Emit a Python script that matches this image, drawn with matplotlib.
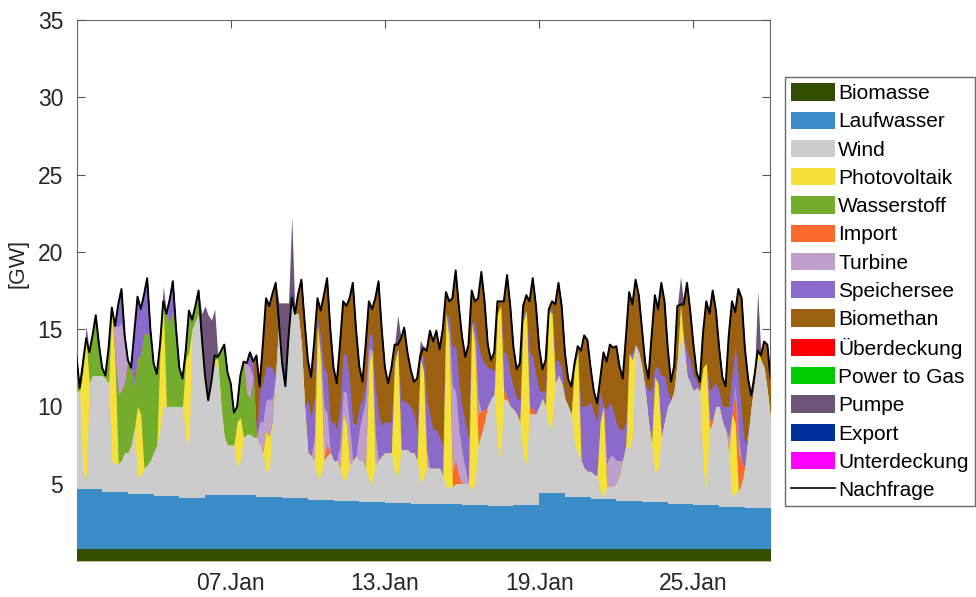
import numpy as np
import matplotlib.pyplot as plt
from matplotlib.patches import Patch
from matplotlib.lines import Line2D

plt.rcParams['font.family'] = ['Liberation Sans', 'DejaVu Sans']

# Stunden ab 01.Jan 00:00 im 3-h-Raster (letzter Punkt = 28.Jan 00:00)
stunden = np.arange(0, 27 * 24 + 1, 3)
tage = np.arange(0, 28) * 24

# Nachfrage [GW], eine Zeile pro Tag (0, 3, ..., 21 Uhr)
nachfrage = [
    13.2, 11.2, 12.8, 14.4, 13.5, 14.6, 15.9, 14.0,
    12.5, 12.0, 13.8, 16.4, 15.2, 16.6, 17.6, 14.6,
    13.0, 12.5, 14.8, 17.1, 16.3, 17.2, 18.3, 15.0,
    12.8, 12.1, 14.0, 16.8, 16.0, 16.9, 18.1, 15.0,
    12.5, 11.8, 13.6, 16.2, 15.6, 16.5, 17.5, 14.5,
    12.0, 10.4, 11.6, 13.3, 13.2, 13.6, 14.0, 12.2,
    11.5, 9.6, 10.0, 12.0, 12.9, 12.8, 13.5, 12.9,
    13.3, 11.3, 14.0, 17.0, 16.5, 17.3, 18.0, 15.5,
    12.8, 11.3, 14.5, 17.0, 16.0, 17.3, 18.2, 15.5,
    13.0, 11.9, 14.2, 17.0, 16.2, 17.2, 18.3, 15.0,
    12.5, 11.5, 14.0, 16.8, 16.5, 17.0, 18.0, 15.0,
    12.6, 11.6, 14.0, 16.8, 16.3, 17.0, 18.1, 15.0,
    12.5, 11.5, 12.5, 14.0, 14.0, 14.4, 15.1, 13.5,
    12.4, 11.6, 11.8, 13.3, 13.8, 13.6, 14.9, 14.2,
    14.9, 13.7, 15.0, 17.4, 16.8, 17.0, 18.8, 16.5,
    14.5, 13.2, 14.0, 17.5, 16.8, 17.0, 18.7, 16.8,
    14.0, 13.0, 13.5, 16.8, 16.8, 16.8, 18.5, 16.5,
    13.8, 12.4, 12.8, 16.5, 17.2, 16.8, 18.3, 16.5,
    13.8, 12.4, 13.0, 16.3, 16.8, 16.6, 18.0, 16.5,
    13.5, 11.8, 11.3, 12.8, 13.9, 13.6, 14.6, 14.3,
    12.5, 11.0, 10.2, 11.8, 13.5, 12.9, 14.0, 13.8,
    13.9, 12.6, 11.8, 14.5, 17.4, 16.6, 18.2, 17.2,
    15.0, 12.8, 11.8, 14.6, 17.2, 16.3, 18.0, 16.8,
    13.8, 11.6, 12.6, 16.5, 16.6, 16.6, 18.0, 16.2,
    14.0, 12.2, 11.6, 14.8, 16.8, 16.0, 17.5, 16.2,
    13.8, 11.9, 11.3, 14.6, 16.8, 16.1, 17.6, 17.0,
    13.8, 11.8, 10.7, 12.0, 13.6, 13.3, 14.2, 14.0,
    11.8,
]

# Oberkante der Windeinspeisung [GW] (gestapelt ueber Biomasse + Laufwasser)
wind_oben = [
    11.0, 11.0, 5.8, 5.3, 11.5, 12.0, 12.0, 12.0,
    12.0, 11.8, 11.5, 6.5, 6.3, 6.3, 6.5, 7.0,
    7.0, 7.5, 8.5, 5.5, 5.5, 6.0, 6.2, 6.5,
    7.0, 7.5, 8.5, 10.0, 10.0, 10.0, 10.0, 10.0,
    10.0, 10.0, 8.0, 7.6, 15.0, 15.5, 16.0, 14.0,
    12.0, 10.4, 11.6, 13.0, 12.5, 10.0, 8.0, 7.5,
    7.5, 7.5, 6.0, 6.5, 8.0, 8.2, 8.2, 8.0,
    8.0, 7.5, 7.0, 5.8, 6.0, 9.0, 12.0, 15.5,
    12.8, 11.3, 14.5, 17.0, 16.0, 16.0, 14.0, 10.0,
    7.0, 6.8, 6.5, 5.4, 5.5, 6.5, 6.8, 7.0,
    6.5, 6.5, 6.0, 5.2, 5.4, 6.2, 6.5, 6.8,
    6.5, 6.5, 6.0, 5.3, 5.0, 6.2, 6.5, 6.8,
    7.0, 7.0, 7.0, 5.8, 5.5, 7.2, 7.2, 7.2,
    7.0, 7.0, 6.5, 5.1, 5.3, 6.1, 6.0, 6.0,
    6.0, 6.0, 5.5, 4.8, 4.8, 4.8, 5.0, 5.0,
    5.0, 5.0, 5.0, 4.6, 5.0, 7.5, 8.2, 9.0,
    10.0, 10.5, 10.8, 7.5, 6.7, 10.5, 10.4, 10.0,
    9.8, 9.5, 9.0, 6.8, 6.3, 9.5, 9.5, 9.5,
    10.0, 10.5, 10.0, 8.5, 9.0, 11.5, 12.0, 11.5,
    10.5, 10.0, 9.5, 7.5, 7.0, 6.5, 6.0, 5.8,
    5.8, 5.6, 5.5, 4.5, 4.2, 4.8, 4.8, 4.8,
    5.0, 5.5, 6.5, 7.5, 7.2, 8.0, 14.0, 13.5,
    12.5, 11.0, 9.0, 7.6, 5.7, 6.0, 8.0, 9.0,
    10.0, 10.4, 11.0, 13.0, 14.3, 14.0, 12.0, 11.5,
    11.0, 11.2, 11.0, 6.0, 4.8, 8.5, 9.0, 10.0,
    10.0, 9.0, 8.5, 7.0, 4.2, 4.4, 4.5, 5.0,
    6.0, 8.0, 10.0, 11.5, 13.0, 13.0, 12.5, 11.0,
    9.2,
]

# Tageswerte [GW]
biomasse = [0.78] * 27
laufwasser = [3.86, 3.66, 3.53, 3.42, 3.32, 3.49, 3.49, 3.38, 3.27, 3.17,
              3.10, 3.04, 2.95, 2.91, 2.91, 2.82, 2.78, 2.82, 3.60, 3.38,
              3.21, 3.12, 3.01, 2.91, 2.82, 2.73, 2.67]

# Einzelne Stunden mit Beitrag [GW], sonst 0
photovoltaik = {6: 6.4, 9: 9.0, 33: 9.7, 36: 6.5, 57: 4.5, 60: 4.0, 78: 5.0,
                81: 6.7, 102: 5.0, 105: 6.0, 132: 0.6, 150: 3.0, 153: 2.8,
                177: 2.6, 180: 2.0, 225: 9.8, 228: 7.5, 249: 4.3, 252: 3.5,
                273: 7.5, 276: 8.6, 297: 7.0, 300: 8.2, 321: 8.0, 324: 7.0,
                345: 11.2, 348: 9.5, 369: 10.8, 372: 9.0, 393: 8.5, 396: 9.8,
                417: 8.7, 420: 9.9, 441: 7.7, 444: 7.0, 465: 5.0, 468: 6.5,
                489: 4.5, 492: 5.8, 516: 6.2, 519: 5.0, 540: 6.2, 543: 5.5,
                564: 2.2, 585: 6.5, 588: 8.0, 612: 5.3, 615: 4.5, 636: 0.6}
importe = {234: 0.8, 351: 1.0, 354: 1.5, 357: 0.5, 375: 2.0, 378: 1.5,
           381: 0.8, 399: 0.5, 402: 0.3, 423: 0.5, 426: 0.3, 591: 0.5, 594: 0.3,
           615: 2.0, 618: 2.5, 621: 1.5}
turbine = {36: 2.0, 39: 4.4, 42: 4.4, 45: 2.5, 159: 2.0, 162: 2.0, 171: 1.5,
           174: 2.0, 177: 2.0, 180: 2.5, 183: 1.5, 222: 1.5, 228: 0.5, 231: 3.5,
           234: 2.0, 246: 1.5, 249: 1.5, 252: 2.0, 255: 2.5, 264: 2.0, 267: 3.0,
           270: 4.5, 273: 1.0, 279: 2.0, 327: 1.0, 348: 0.5, 351: 5.5,
           354: 4.5, 357: 3.0, 360: 2.0, 363: 1.0, 372: 0.5, 375: 1.0, 495: 1.5,
           498: 2.0, 501: 2.0, 504: 1.5, 507: 1.0, 609: 1.0, 615: 0.5,
           618: 1.0}
speichersee = {39: 1.4, 42: 2.2, 45: 0.6, 54: 3.5, 57: 4.0, 60: 3.0, 63: 2.5,
               66: 3.6, 69: 0.5, 87: 1.5, 90: 2.0, 162: 1.0, 165: 1.0, 171: 2.0,
               174: 2.5, 177: 2.2, 180: 2.1, 183: 2.0, 216: 3.4, 219: 2.5, 222: 2.5,
               225: 0.5, 228: 1.0, 231: 2.5, 234: 2.5, 237: 2.0, 240: 2.5, 243: 2.0,
               246: 2.5, 249: 2.4, 252: 2.5, 255: 3.0, 258: 2.5, 261: 2.0, 264: 1.5,
               267: 1.0, 270: 1.0, 273: 1.0, 276: 1.0, 279: 3.0, 282: 3.0, 285: 2.0,
               288: 2.0, 291: 2.0, 294: 2.0, 297: 0.5, 303: 3.2, 306: 3.2, 309: 3.0,
               312: 3.0, 315: 2.5, 318: 2.0, 324: 1.0, 327: 3.3, 330: 3.5, 333: 2.5,
               336: 2.5, 339: 2.0, 342: 2.0, 348: 1.0, 351: 2.5, 354: 3.0, 357: 3.0,
               360: 3.0, 363: 3.0, 366: 3.0, 372: 1.0, 375: 3.5, 378: 3.5, 381: 3.0,
               384: 2.5, 387: 2.0, 390: 1.5, 399: 2.5, 402: 2.7, 405: 2.0,
               408: 1.5, 411: 1.0, 414: 1.5, 417: 0.5, 423: 3.5, 426: 3.5, 429: 2.5,
               432: 1.0, 435: 0.5, 438: 1.0, 444: 0.3, 447: 1.5, 450: 1.0, 453: 1.0,
               471: 3.5, 474: 4.0, 477: 4.3, 480: 4.5, 483: 4.0, 486: 3.5, 489: 2.0,
               495: 3.5, 498: 3.5, 501: 3.0, 504: 2.5, 507: 2.0, 510: 2.0, 513: 1.5,
               519: 0.5, 531: 0.5, 534: 2.0, 537: 3.5, 540: 0.7, 543: 1.0, 546: 4.0,
               549: 3.0, 552: 1.0, 567: 0.5, 570: 1.5, 573: 1.5, 576: 1.0, 579: 0.5,
               591: 2.0, 594: 2.0, 597: 1.5, 600: 1.0, 603: 1.0, 606: 1.5, 609: 2.0,
               612: 2.5, 615: 2.5, 618: 4.0, 621: 3.0, 624: 1.5, 627: 0.5}
pumpe = {9: 0.8, 81: 1.0, 117: 1.5, 120: 4.5, 123: 5.5, 126: 4.0, 129: 3.0,
         189: 1.2, 192: 3.9, 195: 4.9, 198: 2.2, 201: 4.9, 300: 1.9, 321: 1.0,
         564: 1.8, 636: 3.9}
export = {195: 0.5, 201: 0.4}

labels = ['Biomasse', 'Laufwasser', 'Wind', 'Photovoltaik', 'Wasserstoff', 'Import',
          'Turbine', 'Speichersee', 'Biomethan', 'Überdeckung', 'Power to Gas',
          'Pumpe', 'Export', 'Unterdeckung']
farben = ['#314d00', '#3a8dc6', '#cccccc', '#f6e03a', '#74ac2e', '#fd6b2c',
          '#bf9fcb', '#8a6bcb', '#9b6010', '#ff0000', '#00cc00',
          '#6e5479', '#00309a', '#ff00ff']
farbe = dict(zip(labels, farben))


def reihe(d):
    return np.array([d.get(int(h), 0.0) for h in stunden])


D = np.array(nachfrage)
G = np.array(wind_oben)
pv = reihe(photovoltaik)
imp = reihe(importe)
tur = reihe(turbine)
spe = reihe(speichersee)
rest = np.clip(D - (G + pv + imp + tur + spe), 0, None)
# Rest bis zur Nachfrage: vor dem 08.Jan Wasserstoff, danach Biomethan
wst = np.where(stunden < 168, rest, 0.0)
bme = np.where(stunden >= 168, rest, 0.0)

kanten = [('Wind', G)]
oben = G.copy()
for name, werte in [('Photovoltaik', pv), ('Wasserstoff', wst), ('Import', imp),
                    ('Turbine', tur), ('Speichersee', spe), ('Biomethan', bme),
                    ('Export', reihe(export)), ('Pumpe', reihe(pumpe))]:
    oben = oben + werte
    kanten.append((name, oben.copy()))

fig = plt.figure(figsize=(9.76, 5.97), dpi=100)
ax = fig.add_axes([77 / 976, 1 - 561 / 597, 693 / 976, 541 / 597])

# von oben nach unten uebermalen, damit keine Spalten zwischen Flaechen bleiben
for name, kante in reversed(kanten):
    ax.fill_between(stunden, 0, kante, color=farbe[name], lw=0, zorder=2)

lw_oben = np.array(biomasse) + np.array(laufwasser)
ax.fill_between(tage, 0, np.append(lw_oben, lw_oben[-1]), step='post',
                color=farbe['Laufwasser'], lw=0, zorder=3)
ax.fill_between(tage, 0, np.append(biomasse, biomasse[-1]), step='post',
                color=farbe['Biomasse'], lw=0, zorder=3)
ax.plot(stunden, D, color='black', lw=1.4, zorder=4)

# minimal enger, damit die Flaechenraender nicht am Achsenrand durchscheinen
ax.set_xlim(0.5, 647.5)
ax.set_ylim(0, 35)
ax.set_yticks([5, 10, 15, 20, 25, 30, 35])
ax.set_xticks([144, 288, 432, 576])
ax.set_xticklabels(['07.Jan', '13.Jan', '19.Jan', '25.Jan'])
ax.tick_params(direction='in', top=True, right=True, length=6, width=0.8,
               color='#555555', labelsize=16.5, labelcolor='#262626')
ax.tick_params(axis='x', pad=8)
ax.tick_params(axis='y', pad=10)
ax.set_axisbelow(True)
for s in ax.spines.values():
    s.set_color('#666666')
    s.set_linewidth(0.8)
    s.set_zorder(0.5)
ax.set_ylabel('[GW]', fontsize=15.5, color='#262626')
ax.yaxis.set_label_coords(-0.07, 0.55)

handles = [Patch(facecolor=farbe[n], edgecolor='none') for n in labels]
handles.append(Line2D([], [], color='black', lw=1.2))
fig.legend(handles, labels + ['Nachfrage'], loc='upper left',
           bbox_to_anchor=(785 / 976, 1 - 77 / 597), frameon=True, fancybox=False,
           edgecolor='#444444', fontsize=15, handlelength=2.1, handleheight=0.9,
           handletextpad=0.15, labelspacing=0.405, borderpad=0.3, borderaxespad=0)
fig.savefig('out.png', dpi=100)
